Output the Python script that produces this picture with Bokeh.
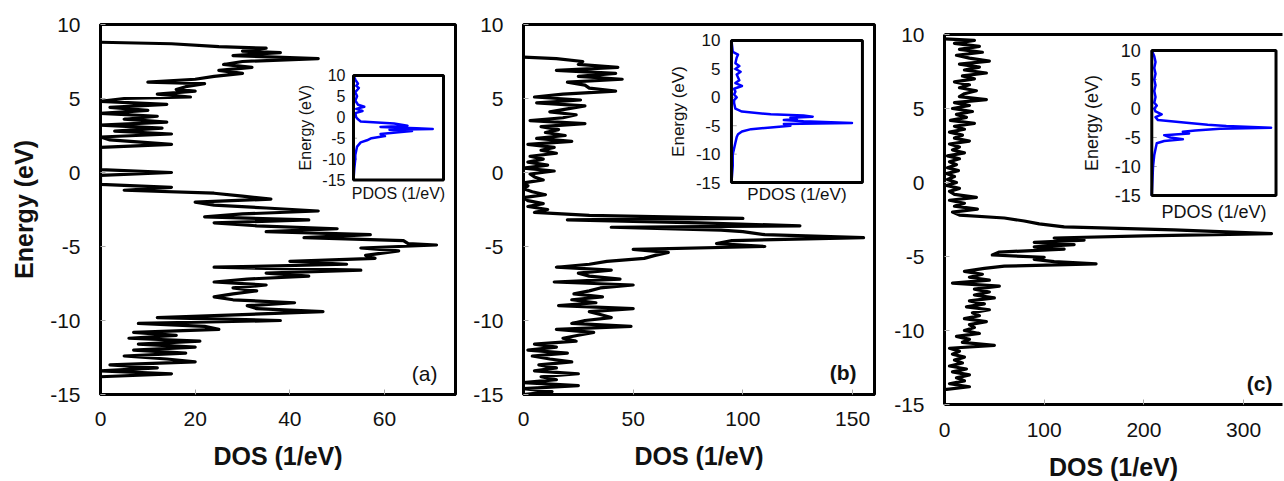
import math
from bokeh.plotting import figure
from bokeh.layouts import row
from bokeh.models import FixedTicker, Range1d, Label, LinearAxis
from bokeh.embed import file_html
from bokeh.resources import INLINE

# ---------------- data ----------------
E_a = [8.8, 8.7, 8.5, 8.4, 8.2, 8.1, 7.9, 7.7, 7.5, 7.3, 7.1, 6.9, 6.7, 6.5, 6.3, 6.1, 6.0, 5.8, 5.6, 5.5,
       5.3, 5.1, 5.0, 4.8, 4.6, 4.4, 4.2, 4.0, 3.8, 3.6, 3.4, 3.2, 3.0, 2.8, 2.6, 2.4, 2.2, 1.9, 1.7, 1.0,
       0.2, 0.0, -0.2, -0.8, -1.0, -1.2, -1.4, -1.6, -1.8, -2.0, -2.2, -2.4, -2.6, -2.8, -3.0, -3.2, -3.4,
       -3.6, -3.8, -4.0, -4.2, -4.4, -4.6, -4.8, -4.9, -5.1, -5.3, -5.6, -5.8, -6.0, -6.2, -6.4, -6.6, -6.8,
       -7.0, -7.2, -7.4, -7.6, -7.8, -8.0, -8.2, -8.4, -8.6, -8.8, -9.0, -9.2, -9.4, -9.6, -9.8, -10.0,
       -10.2, -10.4, -10.6, -10.8, -11.0, -11.2, -11.4, -11.6, -11.8, -12.0, -12.2, -12.4, -12.6, -12.8,
       -13.0, -13.2, -13.4, -13.6, -13.8]
DOS_a = [0, 15, 25, 35, 30, 38, 28, 46, 30, 26, 32, 25, 30, 24, 20, 10, 22, 18, 16, 20,
         12, 19, 5, 0, 14, 2, 10, 0, 12, 5, 14, 0, 13, 3, 15, 0, 2, 15, 0, 0,
         0, 15, 0, 0, 15, 5, 24, 30, 36, 20, 24, 35, 46, 30, 22, 44, 24,
         33, 50, 35, 57, 43, 64, 65, 71, 55, 63, 56, 58, 40, 52, 24, 55, 35,
         44, 31, 24, 35, 28, 33, 28, 24, 28, 41, 31, 33, 47, 30, 12, 38,
         8, 22, 25, 7, 16, 6, 21, 8, 20, 7, 18, 5, 14, 20,
         2, 12, 0, 15, 0]

E_b = [7.8, 7.7, 7.5, 7.3, 7.1, 6.9, 6.7, 6.5, 6.3, 6.1, 5.9, 5.7, 5.5, 5.3, 5.1, 4.9, 4.7, 4.5, 4.3, 4.1,
       3.9, 3.7, 3.5, 3.3, 3.1, 2.9, 2.7, 2.5, 2.3, 2.1, 1.9, 1.7, 1.5, 1.3, 1.1, 0.9, 0.7, 0.5, 0.3, 0.1,
       -0.1, -0.3, -0.5, -0.7, -0.9, -1.1, -1.3, -1.5, -1.7, -1.9, -2.1, -2.3, -2.5, -2.7, -2.9, -3.1, -3.2,
       -3.4, -3.6, -3.7, -3.9, -4.0, -4.2, -4.4, -4.6, -4.8, -5.0, -5.2, -5.4, -5.6, -5.8, -6.0, -6.2, -6.4,
       -6.6, -6.8, -7.0, -7.2, -7.4, -7.6, -7.8, -8.0, -8.2, -8.4, -8.6, -8.8, -9.0, -9.2, -9.4, -9.6, -9.8,
       -10.0, -10.2, -10.4, -10.6, -10.8, -11.0, -11.2, -11.4, -11.6, -11.8, -12.0, -12.2, -12.4, -12.6,
       -12.8, -13.0, -13.2, -13.4, -13.6, -13.8, -14.0, -14.2, -14.4, -14.6, -14.8, -15.0]
DOS_b = [0, 15, 27, 25, 43, 15, 42, 25, 45, 20, 28, 30, 42, 18, 5, 26, 6, 28, 20, 12,
         24, 18, 3, 28, 8, 16, 10, 19, 6, 22, 2, 14, 8, 15, 3, 9, 2, 11, 0, 14,
         3, 5, 9, 0, 2, 0, 4, 10, 0, 2, 9, 2, 11, 5, 30, 100, 20,
         80, 126, 40, 90, 100, 110, 155, 95, 88, 110, 50, 66, 60, 55, 38, 30, 15,
         40, 25, 30, 44, 14, 50, 35, 30, 23, 36, 22, 33, 16, 50, 30, 35, 40,
         28, 22, 49, 15, 32, 25, 18, 24, 5, 15, 2, 20, 4, 12,
         22, 7, 15, 5, 25, 8, 15, 0, 25, 0, 13, 0]

E_c = [9.7, 9.6, 9.4, 9.2, 9.0, 8.8, 8.6, 8.4, 8.2, 8.0, 7.8, 7.6, 7.4, 7.2, 7.0, 6.8, 6.6, 6.4, 6.2, 6.0,
       5.8, 5.6, 5.4, 5.2, 5.0, 4.8, 4.6, 4.4, 4.2, 4.0, 3.8, 3.6, 3.4, 3.2, 3.0, 2.8, 2.6, 2.4, 2.2, 2.0,
       1.8, 1.6, 1.4, 1.2, 1.0, 0.8, 0.6, 0.4, 0.2, 0.0, -0.2, -0.4, -0.6, -0.8, -1.0, -1.2, -1.4, -1.6,
       -1.8, -2.0, -2.2, -2.4, -2.6, -2.8, -3.0, -3.2, -3.45, -3.6, -3.75, -3.9, -4.05, -4.2, -4.35, -4.5,
       -4.7, -4.9, -5.05, -5.2, -5.35, -5.5, -5.65, -5.8, -6.0, -6.2, -6.4, -6.6, -6.8, -7.0, -7.2, -7.4,
       -7.6, -7.8, -8.0, -8.2, -8.4, -8.6, -8.8, -9.0, -9.2, -9.4, -9.6, -9.8, -10.0, -10.2, -10.4, -10.6,
       -10.8, -11.0, -11.2, -11.4, -11.6, -11.8, -12.0, -12.2, -12.4, -12.6, -12.8, -13.0, -13.2, -13.4,
       -13.6, -13.8, -14.0]
DOS_c = [0, 30, 10, 35, 15, 38, 12, 25, 45, 15, 35, 20, 42, 18, 30, 10, 25, 15, 32, 20,
         15, 42, 10, 25, 8, 28, 12, 22, 6, 30, 10, 20, 5, 18, 10, 25, 5, 15, 8, 20,
         3, 15, 5, 12, 3, 14, 2, 10, 3, 12, 2, 15, 5, 10, 32, 5, 20, 10,
         33, 8, 15, 60, 80, 95, 120, 230, 328, 200, 110, 140, 90, 130, 90, 120,
         55, 48, 100, 90, 110, 152, 60, 40, 20, 38, 25, 45, 8, 55, 30, 45,
         30, 50, 25, 40, 22, 45, 28, 35, 20, 42, 25, 30, 20, 35, 12, 25,
         18, 50, 5, 15, 8, 20, 10, 18, 5, 22, 8, 25, 12, 20,
         5, 25, 0]

PE_a = [10, 9, 8, 7.5, 7, 6, 5, 4, 3, 2.5, 2, 1.5, 1, 0, -0.5, -1, -1.5, -2, -2.3, -2.6, -2.8, -3.0,
        -3.3, -3.6, -4, -4.5, -5, -5.5, -6, -7, -8, -9, -10, -12, -15]
PDOS_a = [0, 2, 5, 3, 6, 2, 4, 2, 5, 12, 3, 10, 2, 3, 5, 8, 45, 60, 30, 70, 88, 40,
          65, 50, 30, 35, 20, 15, 8, 4, 3, 2, 2, 1, 0]

PE_b = [10, 8, 7.5, 7, 6, 5.5, 5, 4.5, 4, 3, 2.5, 2, 1.5, 1, 0.5, 0, -0.5, -1, -2, -2.5, -3, -3.2,
        -3.4, -3.6, -3.8, -4.0, -4.2, -4.5, -4.7, -5.0, -5.3, -5.6, -6, -6.5, -7, -8, -9, -10, -12, -15]
PDOS_b = [0, 1, 5, 4, 3, 6, 3, 7, 4, 6, 3, 8, 2, 3, 2, 4, 2, 2, 3, 8, 30, 55,
          62, 45, 50, 40, 55, 92, 40, 45, 30, 15, 8, 5, 4, 3, 2, 1, 1, 0]

PE_c = [10, 9, 8, 7, 6, 5, 4, 3, 2, 1, 0.5, 0, -0.5, -1, -1.5, -2, -2.5, -2.8, -3.0, -3.3, -3.5,
        -3.8, -4.0, -4.3, -4.6, -5.0, -5.3, -5.6, -6, -7, -8, -10, -15]
PDOS_c = [0, 2, 3, 2, 3, 2, 3, 2, 3, 2, 4, 2, 3, 8, 3, 5, 30, 45, 60, 96, 55,
          35, 25, 30, 10, 15, 25, 10, 4, 3, 2, 1, 0]

Y_TICKS = [10, 5, 0, -5, -10, -15]
X_TICKS_A = [0, 20, 40, 60]
X_TICKS_B = [0, 50, 100, 150]
X_TICKS_C = [0, 100, 200, 300]

FONT = "Liberation Sans"
TXT = "#111111"


def main_panel(E, D, xmax, xticks, fw, fh, left, right, top, bottom, ylabel,
               tag, tx, ty, tag_bold, outline=True, xstand=17):
    p = figure(frame_width=fw, frame_height=fh, output_backend="svg",
               toolbar_location=None, x_range=Range1d(0, xmax), y_range=Range1d(-15, 10),
               min_border_left=left, min_border_right=right, min_border_top=top,
               min_border_bottom=bottom)
    p.border_fill_color = "white"
    p.background_fill_color = "white"
    p.grid.visible = False
    p.line(D, E, line_color="black", line_width=3.2, line_join="round")
    xa, ya = p.below[0], p.left[0]
    for ax, ticks in ((xa, xticks), (ya, Y_TICKS)):
        ax.ticker = FixedTicker(ticks=ticks)
        ax.major_label_overrides = {t: str(t) for t in ticks}
        ax.axis_line_width = 3
        ax.axis_line_color = "black"
        ax.major_tick_in = 5
        ax.major_tick_out = 0
        ax.minor_tick_line_color = None
        ax.major_tick_line_color = "#aaaaaa"
        ax.major_label_text_font = FONT
        ax.major_label_text_font_size = "21px"
        ax.major_label_text_color = TXT
        ax.axis_label_text_font = FONT
        ax.axis_label_text_font_style = "bold"
        ax.axis_label_text_font_size = "25px"
        ax.axis_label_text_color = TXT
    xa.major_label_standoff = xstand
    ya.major_label_standoff = 20
    xa.axis_label = "DOS (1/eV)"
    xa.axis_label_standoff = 13
    if ylabel:
        ya.axis_label = "Energy (eV)"
        ya.axis_label_standoff = 9
    if outline:
        p.outline_line_color = "black"
        p.outline_line_width = 3
    else:
        p.outline_line_color = None
        top_ax = LinearAxis(ticker=FixedTicker(ticks=[]), axis_line_width=3,
                            axis_line_color="black", major_label_text_font_size="0px",
                            major_label_standoff=0, axis_label_standoff=0)
        p.add_layout(top_ax, "above")
    p.add_layout(Label(x=tx, y=ty, text=tag, text_align="right", text_baseline="middle",
                       text_font=FONT, text_font_size="21px",
                       text_font_style="bold" if tag_bold else "normal", text_color=TXT))
    return p


def add_inset(p, E, P, xt, yt, fs, tick_off, lab_off, pdos_off):
    xy = p.subplot(x_source=Range1d(0, 100), y_source=Range1d(-15, 10),
                   x_target=Range1d(*xt), y_target=Range1d(*yt))
    xy.quad(left=[0], right=[100], bottom=[-15], top=[10], fill_color="white",
            line_color=None)
    n = len(Y_TICKS)
    xy.segment(x0=[0] * n, y0=Y_TICKS, x1=[4] * n, y1=Y_TICKS, line_color="#aaaaaa",
               line_width=1)
    xy.line(P, E, line_color="#0000ff", line_width=2.5, line_join="round")
    xy.quad(left=[0], right=[100], bottom=[-15], top=[10], fill_color=None,
            line_color="black", line_width=3)
    xy.text(x=[0] * n, y=Y_TICKS, text=[str(t) for t in Y_TICKS], x_offset=-tick_off,
            text_align="right", text_baseline="middle", text_font_size=f"{fs}px",
            text_font={"value": FONT}, text_color=TXT)
    xy.text(x=[0], y=[-2.5], text=["Energy (eV)"], x_offset=-lab_off, angle=math.pi / 2,
            text_align="center", text_baseline="middle", text_font_size=f"{fs}px",
            text_font={"value": FONT}, text_color=TXT)
    xy.text(x=[50], y=[-15], text=["PDOS (1/eV)"], y_offset=pdos_off,
            text_align="center", text_baseline="middle", text_font_size=f"{fs}px",
            text_font={"value": FONT}, text_color=TXT)


pa = main_panel(E_a, DOS_a, 75, X_TICKS_A, 355, 370, 100, 2, 24, 75, True,
                "(a)", 71.2, -13.6, False)
pb = main_panel(E_b, DOS_b, 160, X_TICKS_B, 351, 370, 66, 2, 24, 75, False,
                "(b)", 151.8, -13.5, True)
pc = main_panel(E_c, DOS_c, 339, X_TICKS_C, 338, 370, 68, 1, 24, 75, False,
                "(c)", 329, -13.6, True, outline=False, xstand=18)
pc.margin = (10, 0, 0, 0)

add_inset(pa, PE_a, PDOS_a, (53.45, 72.47), (-0.51, 6.56), 16, 8, 48, 13)
add_inset(pb, PE_b, PDOS_b, (94.8, 154.5), (-0.68, 8.92), 17, 11, 53, 12)
add_inset(pc, PE_c, PDOS_c, (207.9, 332.5), (-0.88, 8.92), 18, 11, 60, 16)

layout = row(pa, pb, pc)
open("out.html", "w").write(file_html(layout, INLINE))
